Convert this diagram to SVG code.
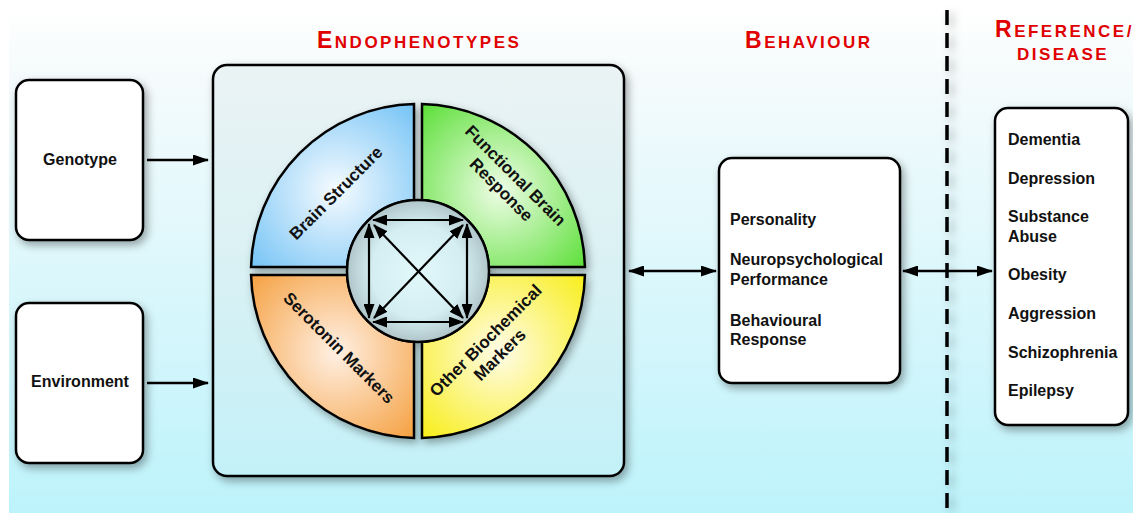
<svg xmlns="http://www.w3.org/2000/svg" width="1133" height="513" viewBox="0 0 1133 513">
<defs>
<linearGradient id="bg" x1="0" y1="0" x2="0" y2="1">
<stop offset="0" stop-color="#ffffff"/>
<stop offset="0.12" stop-color="#f6fbfc"/>
<stop offset="1" stop-color="#bdf3fb"/>
</linearGradient>
<linearGradient id="endoFill" x1="0" y1="0" x2="0" y2="1">
<stop offset="0" stop-color="#ebf3f4"/>
<stop offset="0.5" stop-color="#d9f1f4"/>
<stop offset="1" stop-color="#c3f1f8"/>
</linearGradient>
<radialGradient id="gBlue" gradientUnits="userSpaceOnUse" cx="336" cy="190" r="115">
<stop offset="0" stop-color="#f6fbff"/>
<stop offset="1" stop-color="#74c3f5"/>
</radialGradient>
<radialGradient id="gGreen" gradientUnits="userSpaceOnUse" cx="500" cy="190" r="115">
<stop offset="0" stop-color="#eefde6"/>
<stop offset="1" stop-color="#5cdf38"/>
</radialGradient>
<radialGradient id="gYellow" gradientUnits="userSpaceOnUse" cx="500" cy="352" r="115">
<stop offset="0" stop-color="#fffce8"/>
<stop offset="1" stop-color="#f8ee18"/>
</radialGradient>
<radialGradient id="gOrange" gradientUnits="userSpaceOnUse" cx="336" cy="352" r="115">
<stop offset="0" stop-color="#fff0e4"/>
<stop offset="1" stop-color="#f5a040"/>
</radialGradient>
<radialGradient id="gInner" gradientUnits="userSpaceOnUse" cx="418" cy="271" r="71">
<stop offset="0" stop-color="#e2f8fb"/>
<stop offset="0.65" stop-color="#d4eef2"/>
<stop offset="1" stop-color="#b0c5c9"/>
</radialGradient>
<filter id="shadow" x="-20%" y="-20%" width="150%" height="150%">
<feDropShadow dx="3" dy="4" stdDeviation="4" flood-color="#000" flood-opacity="0.35"/>
</filter>
<filter id="lineShadow" filterUnits="userSpaceOnUse" x="920" y="0" width="60" height="513">
<feDropShadow dx="4" dy="3" stdDeviation="4" flood-color="#000" flood-opacity="0.3"/>
</filter>
<marker id="ah" markerUnits="userSpaceOnUse" markerWidth="16" markerHeight="11" refX="15" refY="5.5" orient="auto-start-reverse">
<path d="M0,0 L16,5.5 L0,11 Z" fill="#000"/>
</marker>
<marker id="ahs" markerUnits="userSpaceOnUse" markerWidth="15" markerHeight="11" refX="14" refY="5.5" orient="auto-start-reverse">
<path d="M0,0 L15,5.5 L0,11 Z" fill="#000"/>
</marker>
</defs>
<style>
.box{fill:#fff;stroke:#000;stroke-width:2.5;filter:url(#shadow);}
.t{font-family:"Liberation Sans",Arial,sans-serif;font-weight:bold;font-size:16px;fill:#111;}
.h{font-family:"Liberation Sans",Arial,sans-serif;font-weight:bold;font-size:17px;fill:#e00000;letter-spacing:2.5px;}
.big{font-size:23px;}
.q{stroke:#000;stroke-width:2.5;}
.ql{font-family:"Liberation Sans",Arial,sans-serif;font-weight:bold;font-size:17px;fill:#111;text-anchor:middle;}
.conn{stroke:#000;stroke-width:2.5;fill:none;}
.inner{stroke:#000;stroke-width:2.2;fill:none;}
</style>

<rect x="9" y="8" width="1124" height="505" fill="url(#bg)"/>

<g id="headers">
<text class="h" x="317" y="48"><tspan class="big">E</tspan>NDOPHENOTYPES</text>
<text class="h" x="745" y="48"><tspan class="big">B</tspan>EHAVIOUR</text>
<text class="h" x="995" y="37"><tspan class="big">R</tspan>EFERENCE/</text>
<text class="h" x="1017" y="60">DISEASE</text>
</g>

<g id="divider">
<line x1="947" y1="10" x2="947" y2="513" stroke="#000" stroke-width="3.5" stroke-dasharray="15,8" filter="url(#lineShadow)"/>
</g>

<g id="genotype">
<rect class="box" x="16" y="80" width="127" height="160" rx="13"/>
<text class="t" x="80" y="165" text-anchor="middle">Genotype</text>
</g>

<g id="environment">
<rect class="box" x="16" y="303" width="127" height="160" rx="13"/>
<text class="t" x="80" y="387" text-anchor="middle">Environment</text>
</g>

<g id="endophenotypes">
<rect x="213" y="65" width="411" height="411" rx="14" fill="url(#endoFill)" stroke="#000" stroke-width="2.5" filter="url(#shadow)"/>
<g filter="url(#shadow)">
<path id="q-brain" class="q" fill="url(#gBlue)" d="M414,104.05 A167,167 0 0 0 251.05,267 L347.11,267 A71,71 0 0 1 414,200.11 Z"/>
<path id="q-functional" class="q" fill="url(#gGreen)" d="M422,104.05 A167,167 0 0 1 584.95,267 L488.89,267 A71,71 0 0 0 422,200.11 Z"/>
<path id="q-other" class="q" fill="url(#gYellow)" d="M584.95,275 A167,167 0 0 1 422,437.95 L422,341.89 A71,71 0 0 0 488.89,275 Z"/>
<path id="q-serotonin" class="q" fill="url(#gOrange)" d="M414,437.95 A167,167 0 0 1 251.05,275 L347.11,275 A71,71 0 0 0 414,341.89 Z"/>
<circle cx="418" cy="271" r="71" fill="url(#gInner)" stroke="#000" stroke-width="2.5"/>
</g>
<text class="ql" transform="translate(340,197) rotate(-45)">Brain Structure</text>
<text class="ql" transform="translate(505,186) rotate(45)"><tspan x="0" y="-9">Functional Brain</tspan><tspan x="0" y="11">Response</tspan></text>
<text class="ql" transform="translate(335,352) rotate(45)">Serotonin Markers</text>
<text class="ql" transform="translate(496,351) rotate(-45)"><tspan x="0" y="-9">Other Biochemical</tspan><tspan x="0" y="11">Markers</tspan></text>
<g id="inner-arrows">
<line class="inner" x1="373" y1="220" x2="463" y2="220" marker-start="url(#ahs)" marker-end="url(#ahs)"/>
<line class="inner" x1="373" y1="322" x2="463" y2="322" marker-start="url(#ahs)" marker-end="url(#ahs)"/>
<line class="inner" x1="369" y1="224" x2="369" y2="318" marker-start="url(#ahs)" marker-end="url(#ahs)"/>
<line class="inner" x1="467" y1="224" x2="467" y2="318" marker-start="url(#ahs)" marker-end="url(#ahs)"/>
<line class="inner" x1="374" y1="225" x2="463" y2="318" marker-start="url(#ahs)" marker-end="url(#ahs)"/>
<line class="inner" x1="463" y1="225" x2="374" y2="318" marker-start="url(#ahs)" marker-end="url(#ahs)"/>
</g>
</g>

<g id="behaviour">
<rect class="box" x="719" y="158" width="181" height="225" rx="13"/>
<text class="t" x="730" y="225">Personality</text>
<text class="t" x="730" y="265">Neuropsychological</text>
<text class="t" x="730" y="285">Performance</text>
<text class="t" x="730" y="326">Behavioural</text>
<text class="t" x="730" y="345">Response</text>
</g>

<g id="disease">
<rect class="box" x="995" y="108" width="133" height="317" rx="13"/>
<text class="t" x="1008" y="145">Dementia</text>
<text class="t" x="1008" y="184">Depression</text>
<text class="t" x="1008" y="222">Substance</text>
<text class="t" x="1008" y="242">Abuse</text>
<text class="t" x="1008" y="280">Obesity</text>
<text class="t" x="1008" y="319">Aggression</text>
<text class="t" x="1008" y="358">Schizophrenia</text>
<text class="t" x="1008" y="396">Epilepsy</text>
</g>

<g id="connectors">
<line class="conn" x1="147" y1="160" x2="208" y2="160" marker-end="url(#ah)"/>
<line class="conn" x1="147" y1="383" x2="208" y2="383" marker-end="url(#ah)"/>
<line class="conn" x1="629" y1="271" x2="716" y2="271" marker-start="url(#ah)" marker-end="url(#ah)"/>
<line class="conn" x1="903" y1="271" x2="992" y2="271" marker-start="url(#ah)" marker-end="url(#ah)"/>
</g>
</svg>
